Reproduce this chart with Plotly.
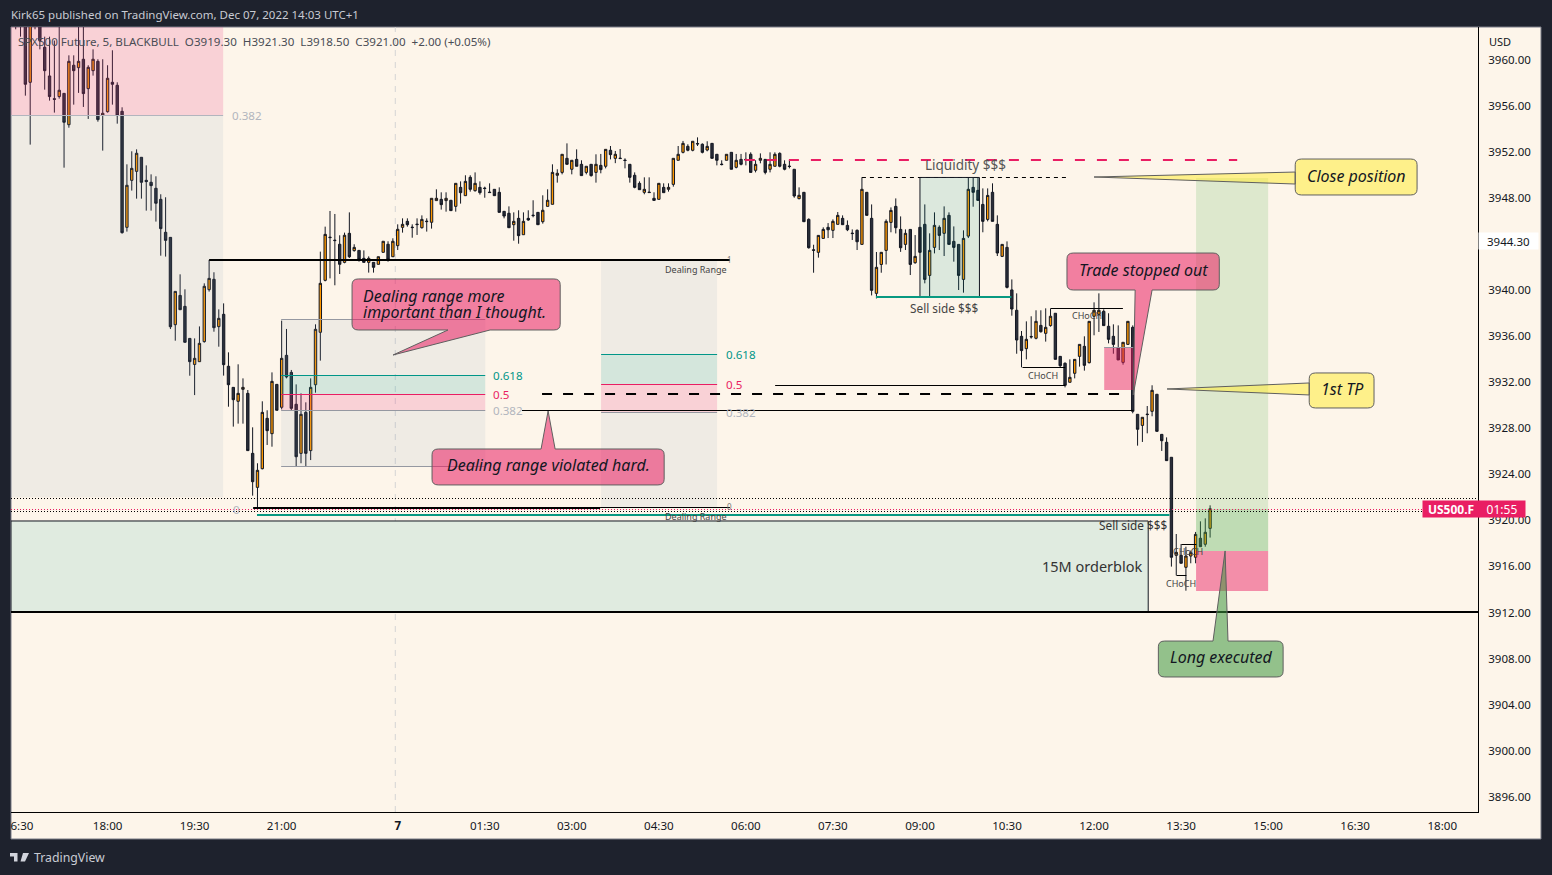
import math

import numpy as np
import plotly.graph_objects as go

# prices are kept as offsets from 3900
BASE = 3900
opens = [
    64.2, 64.0, 62.9, 58.02, 64.5, 64.0, 61.06, 58.57, 56.6, 56.78,
    57.06, 54.34, 59.5, 59.29, 60.02, 57.47, 59.03, 59.84, 55.15, 55.47,
    58.02, 57.76, 55.5, 45.43, 49.51, 50.29, 51.51, 49.51, 49.34, 48.82,
    47.86, 45.0, 44.56, 36.98, 39.52, 38.57, 35.79, 33.53, 33.77, 35.51,
    40.02, 40.92, 36.81, 37.88, 33.37, 31.54, 30.33, 31.37, 31.02, 25.81,
    22.86, 24.48, 28.85, 27.52, 31.8, 29.81, 34.32, 32.84, 30.07, 25.81,
    29.37, 26.05, 31.77, 36.32, 40.83, 44.58, 44.32, 43.96, 42.39, 44.91,
    43.41, 43.43, 42.74, 42.39, 42.39, 42.22, 43.26, 43.96, 42.88, 43.84,
    45.43, 45.95, 45.45, 45.71, 45.4, 45.97, 45.87, 47.75, 47.86, 47.75,
    47.78, 47.25, 48.9, 48.18, 49.77, 48.61, 48.9, 48.84, 48.49, 48.73,
    48.47, 46.82, 46.65, 45.66, 46.21, 44.79, 46.21, 46.49, 46.73, 45.92,
    47.25, 47.43, 49.95, 50.2, 51.42, 50.47, 51.33, 50.9, 50.2, 50.9,
    50.2, 50.81, 50.73, 52.12, 51.42, 51.44, 51.27, 50.9, 49.95, 49.25,
    48.47, 48.49, 47.95, 47.86, 48.9, 48.73, 49.16, 51.25, 51.94, 52.46,
    52.12, 52.71, 52.64, 52.14, 52.72, 51.77, 50.92, 51.25, 51.94, 50.64,
    51.33, 51.33, 51.77, 50.38, 51.25, 51.33, 50.47, 50.73, 51.85, 50.9,
    50.75, 50.47, 47.92, 48.47, 46.12, 43.48, 43.26, 44.47, 45.43, 45.17,
    45.69, 46.21, 45.6, 44.93, 45.17, 43.95, 48.47, 46.21, 39.7, 42.21,
    43.43, 45.86, 47.25, 45.25, 43.95, 45.25, 42.36, 45.43, 45.69, 41.26,
    43.69, 45.43, 44.91, 46.47, 44.21, 43.95, 40.91, 44.67, 48.9, 48.64,
    47.42, 46.12, 48.47, 45.69, 42.91, 43.69, 40.0, 38.23, 35.97, 34.9,
    35.96, 35.8, 36.92, 36.23, 36.9, 37.97, 34.23, 33.63, 31.98, 32.76,
    34.23, 35.1, 33.68, 37.71, 37.88, 38.14, 36.84, 35.97, 34.99, 33.71,
    35.27, 36.75, 29.2, 28.24, 29.22, 29.46, 30.94, 27.46, 26.77, 25.47,
    16.96, 16.96, 15.92, 16.9, 16.79, 18.44, 17.92, 19.3,
]
highs = [
    65.0, 65.0, 64.0, 65.0, 65.0, 65.0, 61.98, 61.98, 61.64, 63.5,
    57.06, 60.36, 60.36, 63.5, 63.5, 59.5, 60.88, 60.02, 60.02, 59.5,
    60.8, 58.02, 55.85, 50.9, 52.03, 52.2, 51.51, 50.81, 50.03, 49.86,
    48.3, 48.04, 44.56, 39.87, 41.35, 40.05, 35.79, 35.79, 36.83, 40.57,
    42.6, 41.53, 38.31, 38.83, 34.58, 31.54, 33.54, 32.32, 31.31, 28.07,
    24.95, 30.33, 29.55, 32.84, 31.8, 37.33, 36.61, 33.05, 31.8, 31.02,
    30.24, 32.32, 37.01, 43.32, 45.49, 46.85, 46.59, 44.74, 44.97, 46.73,
    43.96, 43.43, 43.43, 42.91, 42.39, 42.88, 44.22, 44.22, 44.48, 45.69,
    46.21, 46.21, 45.69, 46.21, 46.47, 46.21, 47.95, 48.73, 48.47, 48.47,
    47.78, 49.25, 49.42, 49.95, 49.95, 50.2, 49.42, 48.96, 49.25, 48.73,
    48.9, 46.82, 47.25, 46.73, 46.91, 46.73, 46.91, 47.78, 46.73, 48.21,
    48.73, 50.9, 50.47, 51.77, 52.72, 51.25, 52.2, 51.25, 50.73, 50.9,
    51.77, 51.8, 52.2, 52.49, 52.06, 52.23, 51.42, 50.9, 50.2, 49.42,
    49.77, 49.77, 48.47, 49.25, 49.25, 49.25, 51.42, 52.49, 52.93, 52.64,
    52.9, 53.24, 52.72, 52.9, 52.72, 51.77, 51.25, 51.77, 51.94, 51.8,
    51.8, 51.94, 51.94, 51.25, 51.85, 51.33, 51.94, 51.94, 51.94, 51.25,
    51.28, 50.47, 48.9, 48.47, 46.21, 43.92, 44.73, 45.43, 45.8, 46.12,
    46.76, 46.47, 46.03, 45.25, 45.25, 49.77, 48.47, 47.42, 43.29, 43.29,
    46.12, 47.16, 47.94, 46.38, 45.25, 45.25, 44.76, 45.43, 47.42, 44.91,
    46.73, 45.6, 47.25, 46.73, 45.51, 43.95, 45.17, 49.77, 49.77, 49.77,
    48.81, 48.81, 49.25, 46.47, 43.95, 44.21, 40.91, 39.7, 36.43, 37.27,
    37.71, 38.23, 38.23, 38.4, 38.4, 37.97, 34.23, 33.71, 33.97, 33.97,
    35.27, 35.97, 37.27, 38.92, 39.7, 38.31, 37.97, 37.01, 36.92, 35.45,
    37.27, 36.92, 29.2, 28.94, 29.92, 31.72, 30.94, 27.46, 27.2, 25.47,
    18.81, 17.94, 17.71, 17.37, 18.99, 19.91, 20.17, 21.3,
]
lows = [
    62.62, 61.98, 56.86, 52.61, 62.62, 60.88, 57.38, 56.43, 55.39, 56.6,
    50.61, 54.08, 56.08, 57.1, 55.88, 54.84, 58.6, 54.6, 52.09, 55.39,
    56.08, 54.43, 44.88, 45.06, 48.62, 47.92, 47.92, 46.88, 46.88, 45.93,
    42.97, 42.89, 36.6, 35.59, 38.28, 35.45, 32.55, 30.87, 33.77, 35.42,
    39.85, 36.37, 35.07, 32.56, 29.86, 28.13, 28.39, 28.39, 26.05, 22.14,
    21.04, 24.42, 26.54, 26.39, 29.55, 29.63, 32.32, 29.57, 24.66, 24.95,
    24.66, 25.23, 31.08, 33.86, 40.74, 41.0, 40.4, 41.38, 42.31, 42.77,
    43.32, 42.45, 42.39, 41.5, 41.5, 42.22, 43.26, 42.45, 42.88, 43.46,
    44.97, 45.49, 44.53, 44.77, 45.32, 45.06, 45.32, 47.75, 46.97, 46.79,
    46.88, 46.79, 47.49, 48.18, 48.53, 48.53, 48.27, 48.0, 48.45, 48.18,
    46.73, 46.21, 45.4, 44.27, 44.01, 44.79, 46.0, 46.3, 45.66, 45.75,
    47.25, 47.43, 49.31, 50.03, 50.9, 50.03, 50.73, 49.92, 50.03, 49.83,
    49.31, 50.12, 50.55, 51.33, 51.0, 51.4, 50.55, 49.31, 48.82, 48.7,
    48.3, 48.45, 47.77, 47.86, 48.44, 48.53, 48.96, 51.25, 51.85, 52.03,
    52.03, 52.49, 51.85, 52.03, 51.42, 50.81, 50.81, 51.25, 50.47, 50.55,
    50.81, 50.81, 50.2, 50.2, 50.99, 50.03, 50.2, 50.73, 50.64, 50.38,
    50.55, 48.0, 47.86, 45.92, 43.58, 41.49, 42.8, 44.47, 44.5, 44.5,
    45.69, 45.66, 45.1, 44.33, 43.46, 43.95, 46.47, 39.52, 39.26, 41.49,
    42.21, 45.0, 44.9, 43.3, 43.46, 41.29, 42.27, 43.26, 40.57, 39.32,
    43.17, 43.46, 42.94, 43.95, 42.45, 39.99, 39.76, 44.5, 47.22, 47.77,
    45.0, 45.95, 45.95, 42.94, 42.85, 40.13, 37.76, 34.46, 33.28, 33.97,
    35.77, 35.71, 36.29, 35.51, 36.81, 33.97, 33.28, 31.54, 31.98, 32.32,
    33.34, 32.99, 33.62, 36.06, 36.35, 36.9, 35.36, 34.46, 33.92, 33.51,
    35.27, 29.29, 26.48, 26.8, 27.55, 29.03, 27.72, 26.02, 25.18, 15.98,
    15.22, 16.27, 13.89, 16.27, 16.27, 17.71, 17.71, 18.5,
]
closes = [
    63.5, 63.2, 57.85, 64.0, 63.5, 61.64, 59.03, 56.78, 56.54, 57.33,
    54.55, 59.84, 59.03, 59.84, 57.04, 59.32, 60.02, 54.78, 55.33, 58.37,
    57.85, 55.13, 44.97, 49.08, 50.55, 51.86, 49.34, 49.4, 49.05, 47.52,
    45.32, 44.3, 36.8, 39.87, 38.28, 35.45, 33.77, 34.06, 35.36, 40.31,
    41.0, 36.72, 37.53, 33.51, 31.77, 30.47, 31.02, 31.54, 26.05, 23.35,
    24.34, 29.37, 27.78, 32.06, 29.55, 34.06, 32.44, 29.72, 25.52, 29.2,
    25.81, 31.54, 36.58, 40.57, 44.82, 44.54, 44.28, 42.22, 44.74, 42.88,
    43.69, 42.65, 42.39, 42.74, 41.96, 42.88, 44.22, 42.65, 44.22, 45.26,
    45.69, 45.66, 45.41, 45.67, 46.12, 45.93, 47.95, 47.95, 47.4, 47.95,
    46.88, 49.25, 48.44, 49.42, 48.73, 49.25, 48.44, 48.8, 48.45, 48.18,
    46.73, 46.41, 45.4, 45.95, 44.71, 45.95, 46.07, 46.45, 45.66, 46.91,
    47.78, 50.2, 50.12, 51.77, 50.9, 51.25, 50.73, 49.92, 50.73, 49.92,
    50.9, 50.44, 52.2, 51.74, 51.77, 51.4, 51.23, 49.77, 48.9, 48.7,
    48.73, 48.45, 47.77, 49.25, 48.44, 48.9, 51.42, 51.77, 52.72, 52.12,
    52.9, 52.67, 51.94, 52.46, 51.42, 51.25, 50.88, 51.77, 50.47, 51.25,
    50.9, 51.28, 50.2, 50.9, 51.42, 50.2, 50.9, 51.77, 50.73, 50.47,
    50.71, 48.15, 48.21, 45.92, 43.66, 43.44, 44.73, 45.25, 45.22, 45.95,
    46.47, 45.66, 45.22, 44.89, 44.18, 48.73, 46.47, 39.96, 41.96, 43.26,
    45.95, 46.9, 45.4, 43.66, 44.91, 42.21, 42.91, 43.26, 40.91, 43.43,
    45.6, 44.73, 46.21, 43.95, 43.69, 41.26, 44.47, 48.73, 48.47, 47.77,
    45.95, 48.2, 45.95, 43.2, 43.95, 40.22, 38.34, 35.65, 34.73, 35.71,
    35.92, 37.27, 36.37, 36.75, 37.71, 33.97, 33.42, 31.72, 32.41, 33.97,
    35.27, 33.45, 37.27, 38.23, 38.23, 36.9, 35.71, 35.27, 33.92, 35.45,
    37.27, 29.46, 27.9, 28.94, 29.18, 31.28, 27.72, 26.91, 25.18, 16.79,
    17.22, 16.27, 16.9, 17.19, 18.78, 17.71, 18.96, 21.0,
]

time_ticks = [1.3, 19, 37, 55, 79, 97, 115, 133, 151, 169, 187, 205, 223, 241, 259, 277, 295]
time_labels = ["6:30", "18:00", "19:30", "21:00", "<b>7</b>", "01:30", "03:00", "04:30", "06:00",
               "07:30", "09:00", "10:30", "12:00", "13:30", "15:00", "16:30", "18:00"]
# 3944 sits under the white crosshair label
price_ticks = [v for v in range(3896, 3964, 4) if v != 3944]

FONT = "Noto Sans"
INK = "#131722"
PAPER = "#1e222d"
CREAM = "#fdf5ea"
TEAL = "#089981"
PINK = "#e91e63"
GREY = "#9598a1"
LABEL_GREY = "#b2b5be"
ZONE_GREY = "rgba(113,145,174,0.1)"
ZONE_PINK = "rgba(233,65,134,0.2)"
ZONE_GREEN = "rgba(0,150,136,0.13)"
FIB_GREEN = "rgba(48,170,164,0.2)"
CALL_PINK = "rgba(233,30,99,0.55)"
CALL_YELLOW = "rgba(255,235,59,0.55)"
CALL_GREEN = "rgba(60,150,60,0.55)"

X_MIN, X_MAX = -0.97, 302.4
Y_MIN, Y_MAX = 3894.68, 3962.82
LEFT, RIGHT, TOP, BOTTOM = 11, 1478, 27, 812
PX_PER_POINT = (BOTTOM - TOP) / (Y_MAX - Y_MIN)

fig = go.Figure()
fig.add_trace(go.Candlestick(
    x=np.arange(len(opens)),
    open=np.array(opens) + BASE, high=np.array(highs) + BASE,
    low=np.array(lows) + BASE, close=np.array(closes) + BASE,
    increasing=dict(fillcolor="#ff9800", line=dict(color="#131722", width=1)),
    decreasing=dict(fillcolor="#2a2e39", line=dict(color="#131722", width=1)),
    whiskerwidth=0, hoverinfo="skip", showlegend=False,
))


def px(x):
    return (x - LEFT) / (RIGHT - LEFT)


def py(y):
    return (BOTTOM - y) / (BOTTOM - TOP)


def snap(p, width):
    """keep thin lines on whole pixels so they stay crisp"""
    y = (Y_MAX - p) * PX_PER_POINT
    y = round(y) if round(width) % 2 == 0 else math.floor(y) + 0.5
    return Y_MAX - y / PX_PER_POINT


def zone(x0, x1, p0, p1, fill, line=None, width=1, layer="above"):
    fig.add_shape(type="rect", x0=x0, x1=x1, y0=p0, y1=p1, fillcolor=fill, layer=layer,
                  line=dict(color=line, width=width) if line else dict(width=0))


def hline(x0, x1, p, color=INK, width=1, dash="solid"):
    p = snap(p, width)
    fig.add_shape(type="line", x0=x0, x1=x1, y0=p, y1=p, layer="above",
                  line=dict(color=color, width=width, dash=dash))


def label(x, p, text, color="#4a4d55", size=11.6, anchor="left", italic=False):
    if italic:
        text = "<i>" + text + "</i>"
    fig.add_annotation(x=x, y=p, text=text, showarrow=False, xanchor=anchor, yanchor="middle",
                       font=dict(family=FONT, size=size, color=color))


def frame_text(x, y, text, color, size=12, anchor="left", bg=None, w=None, h=None):
    fig.add_annotation(xref="paper", yref="paper", x=px(x), y=py(y), text=text, showarrow=False,
                       xanchor=anchor, yanchor="middle", bgcolor=bg, width=w, height=h,
                       borderpad=0, font=dict(family=FONT, size=size, color=color))


def callout(x0, x1, top, bot, tip, base, side, fill):
    """rounded box with a pointer leaving one side, tip and base are in bars and prices"""
    rx, ry = 1.3, 0.5
    p = [f"M{x0 + rx},{top}"]
    if side == "top":
        p += [f"L{base[0]},{top}", f"L{tip[0]},{tip[1]}", f"L{base[1]},{top}"]
    p += [f"L{x1 - rx},{top}", f"Q{x1},{top} {x1},{top - ry}", f"L{x1},{bot + ry}",
          f"Q{x1},{bot} {x1 - rx},{bot}"]
    if side == "bottom":
        p += [f"L{base[1]},{bot}", f"L{tip[0]},{tip[1]}", f"L{base[0]},{bot}"]
    p += [f"L{x0 + rx},{bot}", f"Q{x0},{bot} {x0},{bot + ry}"]
    if side == "left":
        p += [f"L{x0},{base[1]}", f"L{tip[0]},{tip[1]}", f"L{x0},{base[0]}"]
    p += [f"L{x0},{top - ry}", f"Q{x0},{top} {x0 + rx},{top}", "Z"]
    fig.add_shape(type="path", path=" ".join(p), fillcolor=fill, layer="above",
                  line=dict(color="#5f5f5f", width=1))


# page background and axis strip
fig.add_shape(type="rect", xref="paper", yref="paper", x0=0, x1=px(1541), y0=py(839), y1=1,
              fillcolor=CREAM, line=dict(color="#787b86", width=1), layer="below")

# old range, top left
zone(X_MIN, 42.9, 3955.18, Y_MAX, ZONE_PINK)
zone(X_MIN, 42.9, 3922.0, 3955.18, ZONE_GREY)
hline(X_MIN, 42.9, 3955.18, LABEL_GREY)
label(44.4, 3955.18, "0.382", LABEL_GREY)
label(44.5, 3920.9, "0", LABEL_GREY)

# session break
fig.add_shape(type="line", x0=78.5, x1=78.5, yref="paper", y0=0, y1=1, layer="below",
              line=dict(color="#d4d4d4", width=1, dash="6px,6px"))

# order block
zone(X_MIN, 234.2, 3912, 3919.94, "#e0ebe0", line=INK, layer="below")
hline(X_MIN, X_MAX, 3912, "#000000", 2)
label(233.3, 3916.03, "15M orderblok", "#333", 14.5, "right")

# fib box 1
zone(54.9, 97.1, 3932.53, 3937.39, ZONE_GREY)
zone(54.9, 97.1, 3930.96, 3932.53, FIB_GREEN)
zone(54.9, 97.1, 3929.49, 3930.96, ZONE_PINK)
zone(54.9, 97.1, 3924.63, 3929.49, ZONE_GREY)
hline(54.9, 97.1, 3937.39, GREY)
hline(54.9, 97.1, 3932.53, "#009688")
hline(54.9, 97.1, 3930.96, PINK)
hline(54.9, 97.1, 3929.49, GREY)
hline(54.9, 97.1, 3924.63, GREY)
label(98.3, 3932.53, "0.618", "#009688")
label(98.3, 3930.96, "0.5", PINK)
label(98.3, 3929.49, "0.382", LABEL_GREY)

# fib box 2
zone(121.06, 145.05, 3934.35, 3942.6, ZONE_GREY)
zone(121.06, 145.05, 3931.83, 3934.35, FIB_GREEN)
zone(121.06, 145.05, 3929.4, 3931.83, ZONE_PINK)
zone(121.06, 145.05, 3921.07, 3929.4, ZONE_GREY)
hline(121.06, 145.05, 3934.35, "#009688")
hline(121.06, 145.05, 3931.83, PINK)
hline(121.06, 145.05, 3929.4, GREY)
label(146.5, 3934.35, "0.618", "#009688")
label(146.5, 3931.83, "0.5", PINK)
label(146.5, 3929.4, "0.382", LABEL_GREY)

# dealing range
hline(40, 147.7, 3942.6, "#000000", 2)
hline(49.1, 120.85, 3921.07, "#000000", 2)
hline(120.85, 147.7, 3921.07, "#000000", 1)
hline(49.9, 238.6, 3920.46, TEAL, 2)
label(147.5, 3941.81, "Dealing Range", "#444", 9, "right")
label(147.5, 3920.37, "Dealing Range", "#444", 9, "right")
label(147.7, 3942.6, "1", "#777", 8, "center")
label(147.7, 3921.2, "0", "#777", 8, "center")

# levels in the middle
hline(108.85, 230.06, 3930.96, "#000000", 2, "10px,11px")
hline(104.7, 231.1, 3929.49, "#000000")
hline(157.05, 217.03, 3931.72, "#000000")
hline(150.8, 252.6, 3951.28, PINK, 2, "10px,12px")
hline(175.0, 217.2, 3949.76, "#000000", 1, "4px,4px")
zone(187.0, 199.3, 3939.34, 3949.76, ZONE_GREEN, line=INK)
hline(177.9, 205.9, 3939.34, TEAL, 2)
label(196.5, 3950.84, "Liquidity $$$", "#555", 13.5, "center")
label(192.0, 3938.43, "Sell side $$$", "#444", 11.8, "center")
label(238.6, 3919.6, "Sell side $$$", "#333", 11.8, "right")

# CHoCH marks
hline(208.2, 217.03, 3933.28, "#000000")
hline(214.07, 228.97, 3938.4, "#000000")
hline(240.05, 242.1, 3915.23, "#000000")
hline(241.08, 244.2, 3917.92, "#000000")
label(209.0, 3932.53, "CHoCH", "#444", 9)
label(218.1, 3937.74, "CHoCH", "#444", 9)
label(237.5, 3914.5, "CHoCH", "#444", 9)
label(239.0, 3917.25, "CHoCH", "#444", 9)

# stop box and position
zone(225.1, 231.1, 3931.31, 3935.04, "rgba(233,30,99,0.48)")
hline(225.1, 231.1, 3935.04, GREY)
zone(244.1, 259.0, 3917.34, 3949.71, "rgba(76,175,80,0.18)")
zone(244.1, 259.0, 3917.34, 3920.98, "rgba(76,175,80,0.2)")
zone(244.1, 259.0, 3913.87, 3917.34, "rgba(233,30,99,0.48)")

# last price lines
hline(X_MIN, X_MAX, 3921.93, "#000000", 1, "1px,2px")
hline(X_MIN, X_MAX, 3920.93, PINK, 1, "1px,2px")
hline(X_MIN, X_MAX, 3920.8, "#000000", 1, "1px,2px")

# callouts
CALL_SIZE = 16
callout(69.56, 112.6, 3940.95, 3936.52, (78.04, 3934.35), (89.4, 98.1), "bottom", CALL_PINK)
label(71.4, 3939.47, "Dealing range more", INK, CALL_SIZE, italic=True)
label(71.4, 3938.08, "important than I thought.", INK, CALL_SIZE, italic=True)
callout(86.1, 134.1, 3926.19, 3923.07, (110.1, 3929.49), (108.65, 111.55), "top", CALL_PINK)
label(110.1, 3924.8, "Dealing range violated hard.", INK, CALL_SIZE, "center", True)
callout(217.4, 248.9, 3943.2, 3939.99, (231.1, 3930.88), (231.5, 235), "bottom", CALL_PINK)
label(233.2, 3941.73, "Trade stopped out", INK, CALL_SIZE, "center", True)
callout(264.6, 289.8, 3951.36, 3948.24, (223.0, 3949.8), (3949.19, 3950.23), "left", CALL_YELLOW)
label(277.2, 3949.89, "Close position", INK, CALL_SIZE, "center", True)
callout(267.5, 280.9, 3932.79, 3929.75, (238.1, 3931.4), (3930.88, 3931.92), "left", CALL_YELLOW)
label(274.3, 3931.4, "1st TP", INK, CALL_SIZE, "center", True)
callout(236.3, 262.1, 3909.52, 3906.4, (250.1, 3917.34), (247.6, 250.7), "top", CALL_GREEN)
label(249.3, 3908.14, "Long executed", INK, CALL_SIZE, "center", True)

# frame texts
frame_text(10, 14, "Kirk65 published on TradingView.com, Dec 07, 2022 14:03 UTC+1", "#c8cbd3", 11.5)
frame_text(17, 41, "SPX500 Future, 5, BLACKBULL&nbsp;&nbsp;O3919.30&nbsp;&nbsp;H3921.30&nbsp;&nbsp;L3918.50"
                   "&nbsp;&nbsp;C3921.00&nbsp;&nbsp;+2.00 (+0.05%)", "#4a4d55", 11.6)
frame_text(1488, 41, "USD", INK, 11)
frame_text(1478, 241, "3944.30", INK, 11.5, bg="#ffffff", w=59, h=16)
frame_text(1422, 509, "<b>US500.F</b>", "#ffffff", 12, bg=PINK, w=56, h=16)
frame_text(1478, 509, "01:55", "#ffffff", 12, bg=PINK, w=46, h=16)
frame_text(33, 857, "TradingView", "#c8cbd3", 12.3)

# logo
fig.add_shape(type="path", xref="paper", yref="paper", fillcolor="#d1d4dc", line=dict(width=0),
              path=f"M{px(10)},{py(853)} L{px(17.5)},{py(853)} L{px(17.5)},{py(861.5)} L{px(14)},{py(861.5)} "
                   f"L{px(14)},{py(856.5)} L{px(10)},{py(856.5)} Z "
                   f"M{px(23)},{py(853)} L{px(29)},{py(853)} L{px(25)},{py(861.5)} L{px(20.5)},{py(861.5)} Z")

fig.update_layout(
    width=1552, height=875,
    margin=dict(l=LEFT, r=1552 - RIGHT, t=TOP, b=875 - BOTTOM),
    paper_bgcolor=PAPER, plot_bgcolor=CREAM,
    showlegend=False, dragmode=False,
    font=dict(family=FONT, size=12, color=INK),
    xaxis=dict(range=[X_MIN, X_MAX], tickmode="array", tickvals=time_ticks, ticktext=time_labels,
               tickangle=0, showgrid=False, zeroline=False, showline=True, linecolor="#000000",
               ticks="", ticklabelstandoff=3, rangeslider=dict(visible=False),
               tickfont=dict(family=FONT, size=11.6, color=INK)),
    yaxis=dict(range=[Y_MIN, Y_MAX], side="right", tickmode="array", tickvals=price_ticks,
               ticktext=[f"{v:.2f}" for v in price_ticks], showgrid=False, zeroline=False,
               showline=True, linecolor="#000000", ticks="", ticklabelstandoff=7,
               tickfont=dict(family=FONT, size=11.5, color=INK)),
)

fig.write_html("out.html", config={"displayModeBar": False},
               post_script="document.body.style.margin='0';")
